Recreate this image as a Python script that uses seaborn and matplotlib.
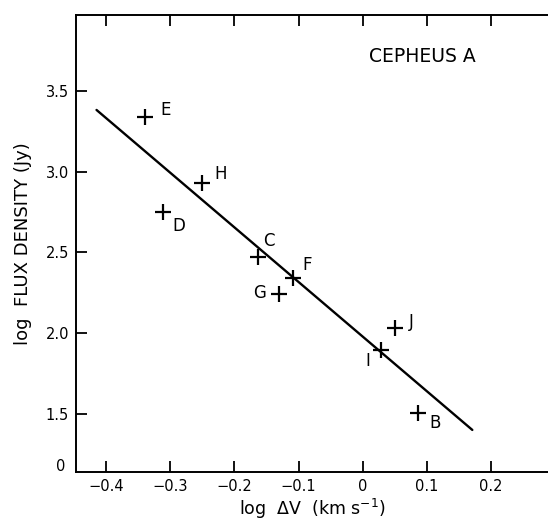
import matplotlib
matplotlib.use("Agg")
import matplotlib.pyplot as plt
import seaborn as sns
import pandas as pd

# Cepheus A maser components: log line width vs log flux density
components = ["E", "H", "D", "C", "F", "G", "I", "J", "B"]
log_dv = [-0.340, -0.250, -0.311, -0.163, -0.109, -0.131, 0.028, 0.050, 0.087]
log_flux = [3.339, 2.928, 2.748, 2.474, 2.344, 2.242, 1.897, 2.035, 1.506]

# label offsets (points) from each cross
label_dx = [15, 13, 11, 8, 10, -14, -9, 12, 12]
label_dy = [5, 7, -10, 11, 9, 1, -8, 4, -7]

# fitted relation, drawn between its two end points
fit_x = [-0.415, 0.171]
fit_y = [3.381, 1.403]

x_ticks = [-0.4, -0.3, -0.2, -0.1, 0.0, 0.1, 0.2]
x_ticklabels = ["\u22120.4", "\u22120.3", "\u22120.2", "\u22120.1", "0", "0.1", "0.2"]
y_ticks = [1.5, 2.0, 2.5, 3.0, 3.5]
y_ticklabels = ["1.5", "2.0", "2.5", "3.0", "3.5"]

sns.set_theme(style="ticks")
plt.rcParams["font.family"] = ["DejaVu Sans"]
plt.rcParams["text.color"] = "black"
plt.rcParams["axes.labelcolor"] = "black"

fig = plt.figure(figsize=(5.48, 5.22), dpi=100)
ax = fig.add_axes([0.1387, 0.0964, 0.8613, 0.8749])

pts = pd.DataFrame({"x": log_dv, "y": log_flux, "name": components})
fit = pd.DataFrame({"x": fit_x, "y": fit_y})

sns.lineplot(data=fit, x="x", y="y", color="black", linewidth=1.7, ax=ax)
sns.scatterplot(data=pts, x="x", y="y", marker="+", s=120, color="black",
                linewidth=1.6, ax=ax, zorder=3)

for name, x, y, dx, dy in zip(components, log_dv, log_flux, label_dx, label_dy):
    ax.annotate(name, (x, y), xytext=(dx, dy), textcoords="offset points",
                ha="center", va="center", fontsize=12)

ax.text(0.010, 3.714, "CEPHEUS A", ha="left", va="center", fontsize=13.5)

ax.set_xlim(-0.447, 0.289)
ax.set_ylim(1.145, 3.968)
ax.set_xticks(x_ticks)
ax.set_xticklabels(x_ticklabels)
ax.set_yticks(y_ticks)
ax.set_yticklabels(y_ticklabels)

# axis break: the flux scale starts from zero
ax.annotate("0", (0, 0), xycoords="axes fraction", xytext=(-8, 4),
            textcoords="offset points", ha="right", va="center", fontsize=10.5)

ax.tick_params(axis="both", direction="in", length=8, width=1.3,
               labelsize=10.5, colors="black")
ax.tick_params(axis="x", top=True, bottom=True, pad=5)
ax.tick_params(axis="y", left=True, right=False, pad=5)

for side in ["left", "bottom", "top"]:
    ax.spines[side].set_linewidth(1.4)
    ax.spines[side].set_color("black")
ax.spines["right"].set_visible(False)

ax.set_xlabel("log  \u0394V  (km s$^{-1}$)", fontsize=12.5, labelpad=2)
ax.set_ylabel("log  FLUX DENSITY (Jy)", fontsize=13, labelpad=10)

fig.savefig("out.png", dpi=100)
